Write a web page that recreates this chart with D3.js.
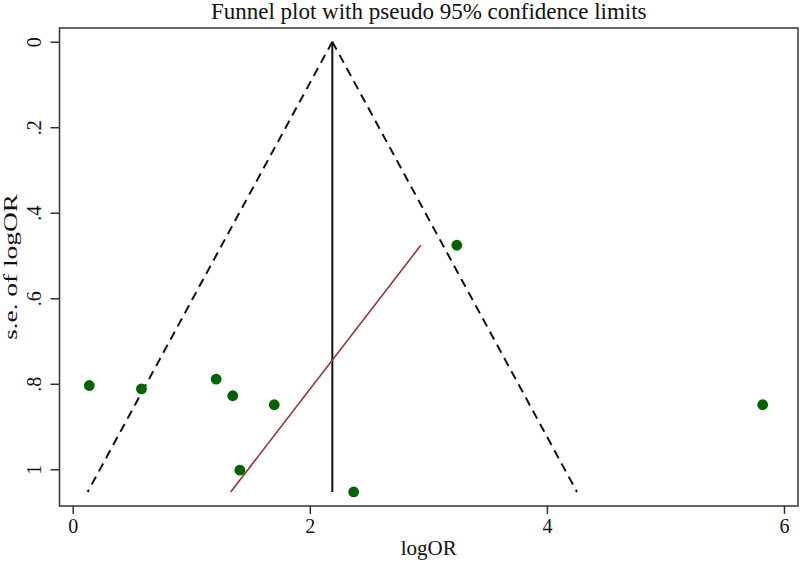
<!DOCTYPE html>
<html>
<head>
<meta charset="utf-8">
<script src="https://cdn.jsdelivr.net/npm/d3@7"></script>
<style>
  html, body { margin: 0; padding: 0; background: #fff; }
  svg { display: block; font-family: "Liberation Serif", "Times New Roman", serif; }
</style>
</head>
<body>
<svg id="chart" width="800" height="562"></svg>
<script>
// ---- data ----
const studyLogOR = [0.14, 0.58, 1.21, 1.35, 1.70, 1.41, 2.37, 3.24, 5.82];
const studySE    = [0.804, 0.812, 0.789, 0.828, 0.849, 1.002, 1.053, 0.476, 0.849];
const pooledLogOR = 2.19;
const zCrit = 1.96;
const eggerIntercept = 4.26;   // logOR = intercept + slope * se
const eggerSlope = -2.78;
const xTicks = [0, 2, 4, 6];
const yTicks = [0, 0.2, 0.4, 0.6, 0.8, 1];
const yTickLabels = ["0", ".2", ".4", ".6", ".8", "1"];
const titleText = "Funnel plot with pseudo 95% confidence limits";
const xLabel = "logOR";
const yLabel = "s.e. of logOR";

// ---- layout ----
const svg = d3.select("#chart");
const frame = { left: 59.5, right: 798, top: 28, bottom: 506 };
const x = d3.scaleLinear().domain([0, 6]).range([72.7, 784]);
const y = d3.scaleLinear().domain([0, 1]).range([41.7, 469.3]);

const seMax = d3.max(studySE);
const seMin = d3.min(studySE);

// frame
svg.append("rect")
  .attr("x", frame.left).attr("y", frame.top)
  .attr("width", frame.right - frame.left).attr("height", frame.bottom - frame.top)
  .attr("fill", "none").attr("stroke", "#333").attr("stroke-width", 1.5);

// axes
const xAxis = d3.axisBottom(x).tickValues(xTicks).tickSize(8).tickPadding(5).tickFormat(d3.format("d"));
const gx = svg.append("g").attr("transform", `translate(0,${frame.bottom})`).call(xAxis);
gx.select(".domain").remove();
gx.selectAll(".tick line").attr("stroke", "#333").attr("stroke-width", 1.5);
gx.selectAll(".tick text").attr("font-size", 20).attr("fill", "#111")
  .attr("font-family", "Liberation Serif, serif").attr("dy", "0.72em");

const yAxis = d3.axisLeft(y).tickValues(yTicks).tickSize(9).tickFormat((d, i) => yTickLabels[i]);
const gy = svg.append("g").attr("transform", `translate(${frame.left},0)`).call(yAxis);
gy.select(".domain").remove();
gy.selectAll(".tick line").attr("stroke", "#333").attr("stroke-width", 1.5);
gy.selectAll(".tick text")
  .attr("font-size", 20).attr("fill", "#111").attr("font-family", "Liberation Serif, serif")
  .attr("x", null).attr("dy", null)
  .attr("text-anchor", "middle")
  .attr("transform", "translate(-18.5,0) rotate(-90)");

// pseudo 95% limits (dashed)
const funnelLeft = [[pooledLogOR, 0], [pooledLogOR - zCrit * seMax, seMax]];
const funnelRight = [[pooledLogOR, 0], [pooledLogOR + zCrit * seMax, seMax]];
const line = d3.line().x(d => x(d[0])).y(d => y(d[1]));
[funnelLeft, funnelRight].forEach(seg => {
  svg.append("path").attr("d", line(seg))
    .attr("fill", "none").attr("stroke", "#111").attr("stroke-width", 2)
    .attr("stroke-dasharray", "9,6");
});

// pooled estimate vertical line
svg.append("path").attr("d", line([[pooledLogOR, 0], [pooledLogOR, seMax]]))
  .attr("fill", "none").attr("stroke", "#111").attr("stroke-width", 2);

// regression line
svg.append("path")
  .attr("d", line([[eggerIntercept + eggerSlope * seMax, seMax], [eggerIntercept + eggerSlope * seMin, seMin]]))
  .attr("fill", "none").attr("stroke", "#9a3434").attr("stroke-width", 1.6);

// points
svg.append("g").selectAll("circle")
  .data(studyLogOR.map((v, i) => [v, studySE[i]]))
  .join("circle")
  .attr("cx", d => x(d[0])).attr("cy", d => y(d[1]))
  .attr("r", 5.4).attr("fill", "#006400");

// title
svg.append("text")
  .attr("x", (frame.left + frame.right) / 2).attr("y", 18.5)
  .attr("text-anchor", "middle").attr("font-size", 23).attr("fill", "#111")
  .text(titleText);

// axis titles
svg.append("text")
  .attr("x", (frame.left + frame.right) / 2).attr("y", 555)
  .attr("text-anchor", "middle").attr("font-size", 21).attr("fill", "#111")
  .text(xLabel);

svg.append("text")
  .attr("transform", `translate(17,${(frame.top + frame.bottom) / 2}) rotate(-90)`)
  .attr("text-anchor", "middle").attr("font-size", 19).attr("fill", "#111")
  .attr("textLength", 146).attr("lengthAdjust", "spacingAndGlyphs")
  .text(yLabel);
</script>
</body>
</html>
